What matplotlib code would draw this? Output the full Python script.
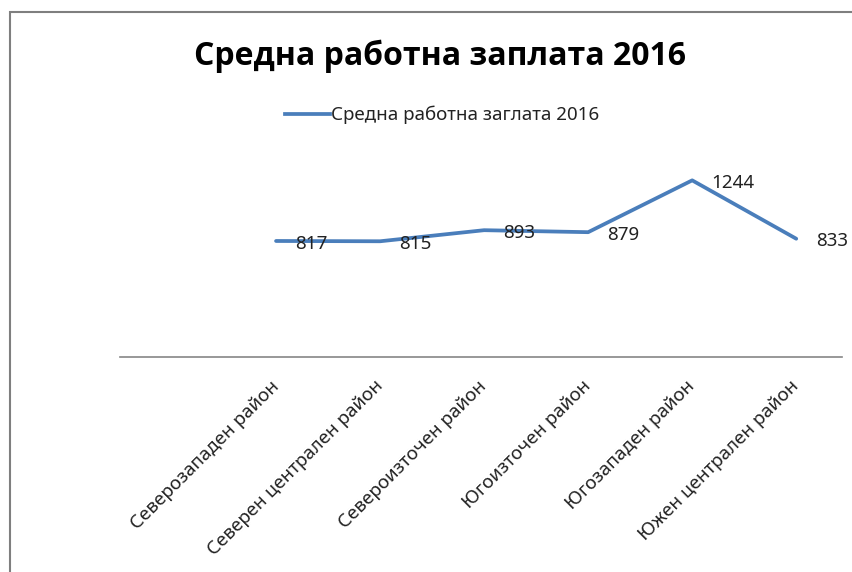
import matplotlib.pyplot as plt
from matplotlib.lines import Line2D
from matplotlib.patches import Rectangle

plt.rcParams['font.family'] = ['Noto Sans', 'DejaVu Sans']

regions = ['Северозападен район', 'Северен централен район', 'Североизточен район',
           'Югоизточен район', 'Югозападен район', 'Южен централен район']
salary = [817, 815, 893, 879, 1244, 833]
series_name = 'Средна работна заглата 2016'
title = 'Средна работна заплата 2016'

W, H = 853, 572
fig = plt.figure(figsize=(W / 100, H / 100), dpi=100)

# plot area placed in pixel terms of the reference
ax = fig.add_axes([120 / W, (H - 357) / H, (842 - 120) / W, (357 - 73) / H])

line_color = '#4a7ebb'
x = list(range(len(regions)))
ax.plot(x, salary, color=line_color, lw=2.7, solid_capstyle='round',
        solid_joinstyle='round')

for xi, v in zip(x, salary):
    ax.annotate(f'{v}', (xi, v), xytext=(14, -2), textcoords='offset points',
                ha='left', va='center', fontsize=13.5, color='#222222')

ax.set_xlim(-1.5, 5.44)
ax.set_ylim(0, 2000)
ax.set_yticks([])
ax.set_xticks(x)
ax.set_xticklabels(regions, rotation=45, ha='right', rotation_mode='anchor',
                   va='center', fontsize=13.5, color='#222222')
ax.tick_params(axis='x', length=0, pad=19)
for s in ['top', 'right', 'left']:
    ax.spines[s].set_visible(False)
ax.spines['bottom'].set_color('#868686')
ax.spines['bottom'].set_linewidth(1.2)

fig.text(440 / W, (H - 56) / H, title, ha='center', va='center',
         fontsize=23, fontweight='bold', color='black',
         family=['Open Sans', 'DejaVu Sans'])

handle = Line2D([], [], color=line_color, lw=2.7)
fig.legend([handle], [series_name], loc='center', bbox_to_anchor=(442 / W, (H - 115) / H),
           frameon=False, fontsize=13.5, handlelength=2.4, handletextpad=0.05,
           labelcolor='#222222')

# chart frame (only top and left edges visible in the crop)
fig.add_artist(Rectangle((10 / W, -0.1), 2, (H - 12) / H + 0.1, transform=fig.transFigure,
                         fill=False, edgecolor='#7f7f7f', lw=1.5))

fig.savefig('out.png', dpi=100)
